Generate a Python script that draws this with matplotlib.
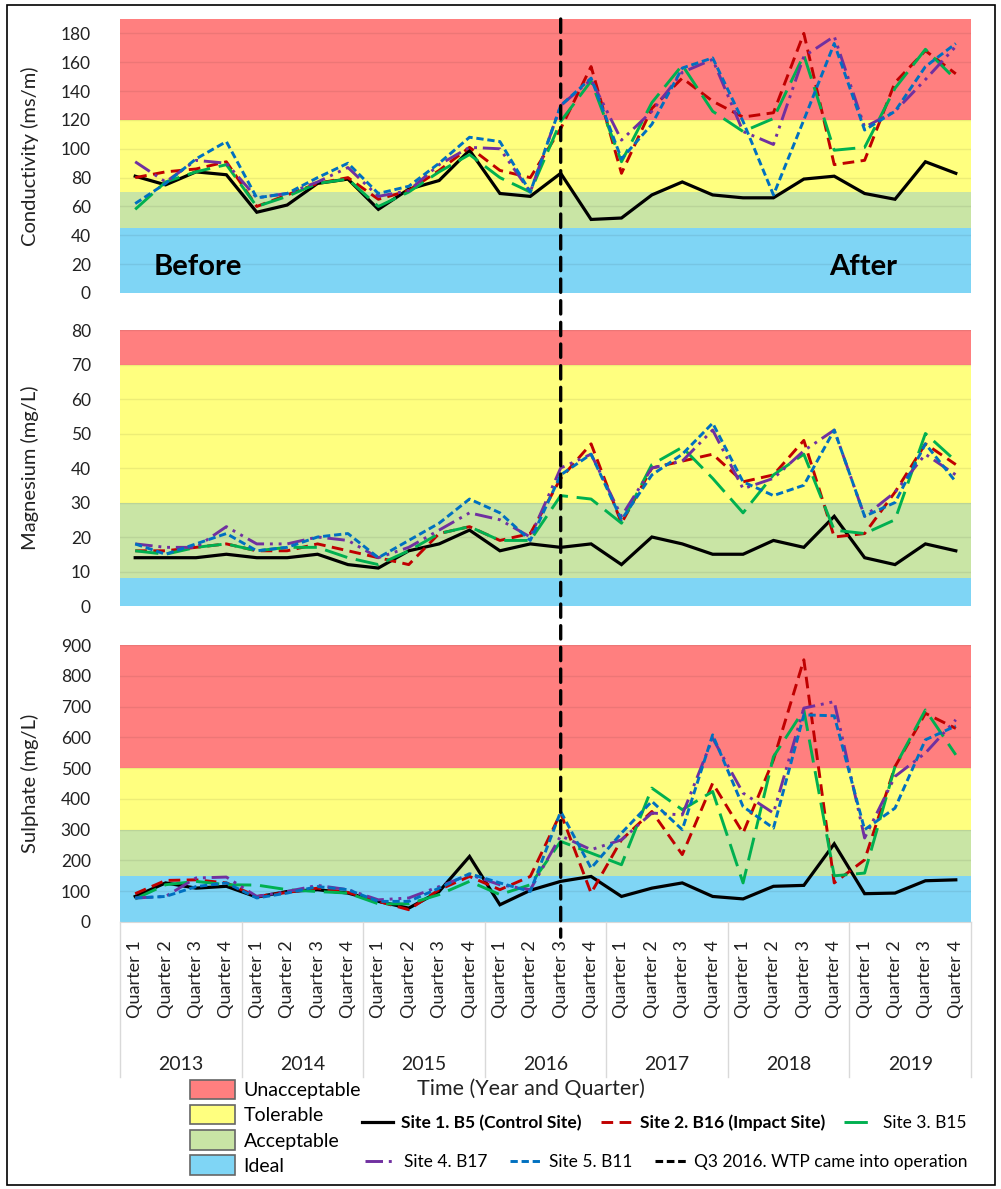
import matplotlib
matplotlib.use("Agg")
import matplotlib.pyplot as plt
from matplotlib.patches import Patch, Rectangle, ConnectionPatch
from matplotlib.transforms import blended_transform_factory

plt.rcParams['font.family'] = ['Lato', 'DejaVu Sans']

# %%
years = ['2013', '2014', '2015', '2016', '2017', '2018', '2019']
quarters = ['Quarter 1', 'Quarter 2', 'Quarter 3', 'Quarter 4']
tick_labels = [q for y in years for q in quarters]
wtp_index = 14  # Q3 2016

site_names = ['Site 1. B5 (Control Site)', 'Site 2. B16 (Impact Site)', 'Site 3. B15',
              'Site 4. B17', 'Site 5. B11']

cond_s1 = [81, 75, 84, 82, 56, 61, 76, 79, 58, 72, 78, 99, 69, 67, 83, 51, 52, 68, 77, 68, 66, 66, 79, 81, 69, 65, 91, 83]
cond_s2 = [80, 84, 86, 91, 60, 68, 76, 80, 65, 71, 85, 101, 85, 80, 114, 157, 83, 128, 149, 133, 122, 125, 180, 89, 92, 146, 168, 152]
cond_s3 = [58, 77, 84, 89, 60, 67, 76, 79, 60, 70, 84, 96, 80, 70, 119, 147, 91, 132, 158, 126, 112, 121, 165, 99, 101, 142, 169, 148]
cond_s4 = [91, 77, 92, 90, 66, 69, 77, 87, 67, 71, 89, 101, 100, 70, 130, 148, 106, 126, 153, 162, 112, 103, 164, 178, 115, 126, 148, 171]
cond_s5 = [62, 76, 93, 105, 66, 69, 80, 90, 69, 74, 90, 108, 105, 70, 130, 149, 93, 117, 156, 163, 119, 68, 120, 173, 113, 126, 157, 173]

mag_s1 = [14, 14, 14, 15, 14, 14, 15, 12, 11, 16, 18, 22, 16, 18, 17, 18, 12, 20, 18, 15, 15, 19, 17, 26, 14, 12, 18, 16]
mag_s2 = [16, 16, 17, 18, 16, 16, 18, 16, 14, 12, 21, 23, 19, 21, 37, 47, 24, 40, 42, 44, 36, 38, 48, 20, 21, 33, 47, 41]
mag_s3 = [16, 15, 17, 18, 16, 17, 17, 14, 12, 16, 21, 23, 19, 19, 32, 31, 24, 41, 46, 37, 27, 38, 44, 22, 21, 25, 50, 42]
mag_s4 = [18, 17, 17, 23, 18, 18, 20, 19, 14, 17, 22, 27, 25, 20, 40, 44, 26, 40, 42, 51, 34, 37, 45, 51, 26, 33, 44, 38]
mag_s5 = [18, 15, 18, 21, 16, 17, 20, 21, 14, 19, 24, 31, 27, 19, 38, 44, 25, 38, 44, 53, 36, 32, 35, 51, 26, 30, 47, 36]

sul_s1 = [83, 127, 110, 116, 81, 99, 105, 94, 67, 45, 99, 213, 56, 103, 132, 148, 83, 110, 127, 83, 75, 116, 119, 254, 92, 94, 134, 137]
sul_s2 = [92, 135, 137, 127, 83, 96, 110, 96, 67, 40, 105, 148, 105, 148, 354, 94, 267, 359, 219, 451, 289, 527, 852, 127, 202, 505, 678, 629]
sul_s3 = [75, 121, 132, 121, 120, 105, 99, 94, 59, 59, 89, 132, 89, 121, 262, 224, 186, 435, 365, 424, 127, 537, 689, 150, 159, 505, 689, 543]
sul_s4 = [78, 83, 143, 146, 83, 99, 119, 105, 72, 78, 115, 154, 121, 105, 280, 235, 267, 354, 348, 597, 419, 354, 695, 716, 273, 473, 549, 657]
sul_s5 = [78, 83, 115, 127, 78, 94, 115, 105, 67, 67, 110, 157, 127, 99, 359, 175, 289, 392, 300, 608, 375, 305, 673, 670, 300, 370, 592, 637]

band_names = ['Unacceptable', 'Tolerable', 'Acceptable', 'Ideal']
band_colors = ['#FF7F7F', '#FFFF7F', '#C9E5A5', '#7FD5F5']
# band limits (ideal, acceptable, tolerable, unacceptable upper)
cond_bands = [0, 45, 70, 120, 190]
mag_bands = [0, 8, 30, 70, 80]
sul_bands = [0, 150, 300, 500, 900]

# %%
line_styles = [
    dict(color='black', lw=2.3, ls='-'),
    dict(color='#C00000', lw=2.1, dashes=(4, 2.2)),
    dict(color='#00B050', lw=2.1, dashes=(8, 3)),
    dict(color='#7030A0', lw=2.1, dashes=(6, 2, 1, 2, 1, 2)),
    dict(color='#0070C0', lw=2.1, dashes=(2.5, 1.3)),
]

W, H = 1001, 1189
fig = plt.figure(figsize=(W / 100, H / 100), dpi=100)

def px_axes(top, bottom, left=120, right=971):
    return fig.add_axes([left / W, 1 - bottom / H, (right - left) / W, (bottom - top) / H])

ax1 = px_axes(19, 293)
ax2 = px_axes(330, 606)
ax3 = px_axes(645, 922)

panels = [
    (ax1, [cond_s1, cond_s2, cond_s3, cond_s4, cond_s5], cond_bands, 20, 'Conductivity (ms/m)'),
    (ax2, [mag_s1, mag_s2, mag_s3, mag_s4, mag_s5], mag_bands, 10, 'Magnesium (mg/L)'),
    (ax3, [sul_s1, sul_s2, sul_s3, sul_s4, sul_s5], sul_bands, 100, 'Sulphate (mg/L)'),
]

x = list(range(len(tick_labels)))
for ax, series, bands, step, ylabel in panels:
    # coloured bands, ideal first
    for k in range(4):
        ax.axhspan(bands[k], bands[k + 1], color=band_colors[3 - k], zorder=0, lw=0)
    ticks = list(range(0, bands[-1] + 1, step))
    for t in ticks[1:]:
        ax.axhline(t, color='black', alpha=0.07, lw=1, zorder=1)
    for vals, name, st in zip(series, site_names, line_styles):
        ax.plot(x, vals, label=name, zorder=3, solid_joinstyle='miter', **st)
    ax.set_xlim(-0.5, len(x) - 0.5)
    ax.set_ylim(0, bands[-1])
    ax.set_yticks(ticks)
    ax.tick_params(axis='y', length=0, pad=21, labelsize=12.5, labelcolor='#222222')
    ax.set_ylabel(ylabel, fontsize=14.5, color='#222222')
    ax.yaxis.set_label_coords(-0.095, 0.5)
    for s in ax.spines.values():
        s.set_visible(False)
    ax.set_xticks([])

# bottom axis with quarter / year categories
ax3.spines['bottom'].set_visible(True)
ax3.spines['bottom'].set_color('#D9D9D9')
ax3.set_xticks(x)
ax3.set_xticklabels(tick_labels, rotation=90, fontsize=13, color='#222222')
ax3.tick_params(axis='x', length=0, pad=13)
trans = blended_transform_factory(ax3.transData, ax3.transAxes)
for j in range(len(years) + 1):
    ax3.plot([j * 4 - 0.5] * 2, [0, -0.56], transform=trans, color='#D9D9D9', lw=1, clip_on=False)
for j, yr in enumerate(years):
    ax3.text(j * 4 + 1.5, -0.515, yr, transform=trans, ha='center', va='center',
             fontsize=14, color='#222222')

ax1.text(0.039, 0.095, 'Before', transform=ax1.transAxes, fontsize=21, fontweight='bold',
         va='center', ha='left')
ax1.text(0.833, 0.095, 'After', transform=ax1.transAxes, fontsize=21, fontweight='bold',
         va='center', ha='left')

# WTP line spanning all panels
wtp = ConnectionPatch(xyA=(wtp_index, 1.0), coordsA=blended_transform_factory(ax1.transData, ax1.transAxes),
                      xyB=(wtp_index, -0.055), coordsB=trans,
                      color='black', lw=2.4, linestyle=(0, (4, 2.5)), zorder=5)
fig.add_artist(wtp)

fig.text(531 / W, 1 - 1089 / H, 'Time (Year and Quarter)', ha='center', va='center',
         fontsize=15.5, color='#222222')

# legends
band_handles = [Patch(facecolor=c, edgecolor='#666666', lw=1.2) for c in band_colors]
fig.legend(band_handles, band_names, loc='upper left', bbox_to_anchor=(190 / W, 1 - 1080 / H),
           frameon=False, fontsize=14, handlelength=2.3, handleheight=1.15, labelspacing=0.3,
           handletextpad=0.45, borderpad=0, borderaxespad=0)

handles, labels = ax1.get_legend_handles_labels()
wtp_handle = plt.Line2D([], [], color='black', lw=2.2, dashes=(2.5, 1.2))
handles = handles + [wtp_handle]
labels = labels + ['Q3 2016. WTP came into operation']

leg1 = fig.legend(handles[:3], labels[:3], loc='center left', bbox_to_anchor=(362 / W, 1 - 1123 / H),
                  ncol=3, frameon=False, fontsize=12.5, handlelength=1.8, handletextpad=0.45,
                  columnspacing=1.1, borderpad=0, borderaxespad=0)
leg2 = fig.legend(handles[3:], labels[3:], loc='center left', bbox_to_anchor=(365 / W, 1 - 1162 / H),
                  ncol=3, frameon=False, fontsize=12.5, handlelength=1.8, handletextpad=0.45,
                  columnspacing=1.3, borderpad=0, borderaxespad=0)
for t in leg1.get_texts()[:2]:
    t.set_fontweight('bold')

fig.add_artist(Rectangle((7 / W, 4 / H), 988 / W, 1180 / H, transform=fig.transFigure,
                         fill=False, edgecolor='black', lw=1.2))

fig.savefig('out.png', dpi=100)
